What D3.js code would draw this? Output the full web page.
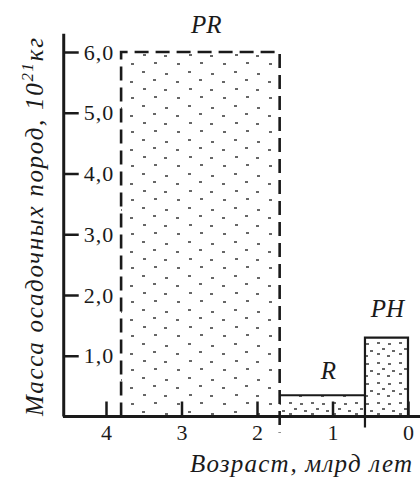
<!DOCTYPE html>
<html>
<head>
<meta charset="utf-8">
<script src="https://cdn.jsdelivr.net/npm/d3@7"></script>
<style>
  body { margin: 0; background: #fff; }
</style>
</head>
<body>
<div id="chart"></div>
<script>
// data: eras, their age bounds (bn years) and sediment mass (10^21 kg)
var eras = ["PR", "R", "PH"];
var ageFrom = [3.8, 1.7, 0.57];
var ageTo = [1.7, 0.57, 0];
var mass = [6.0, 0.35, 1.3];

var yTicks = [1, 2, 3, 4, 5, 6];
var yTickLabels = ["1,0", "2,0", "3,0", "4,0", "5,0", "6,0"];
var xTicks = [4, 3, 2, 1, 0];
var xTickLabels = ["4", "3", "2", "1", "0"];

var width = 420, height = 485;
var ink = "#1a1a1a";
var serif = "Liberation Serif";

// set the ranges
var x = d3.scaleLinear().domain([4, 0]).range([106, 408]);
var y = d3.scaleLinear().domain([0, 6]).range([416.5, 52]);

var svg = d3.select("#chart").append("svg")
    .attr("width", width)
    .attr("height", height);

// stipple patterns for the filled areas
var defs = svg.append("defs");
function stipple(id, w, h, marks) {
  var p = defs.append("pattern")
      .attr("id", id)
      .attr("patternUnits", "userSpaceOnUse")
      .attr("width", w)
      .attr("height", h);
  marks.forEach(function(m) {
    p.append("line")
      .attr("x1", m[0]).attr("y1", m[1])
      .attr("x2", m[0] + 3).attr("y2", m[1])
      .attr("stroke", "#333")
      .attr("stroke-width", 1.5);
  });
}
stipple("dots-sparse", 46, 34, [[4, 4], [27, 6], [15, 12], [38, 14], [5, 21], [26, 22], [16, 29], [39, 30]]);
stipple("dots-dense", 22, 20, [[3, 3], [14, 4], [8, 9], [18, 11], [3, 14], [13, 16]]);

// filled areas
svg.selectAll(".era")
    .data(eras)
  .enter().append("rect")
    .attr("class", "era")
    .attr("x", function(d, i) { return x(ageFrom[i]); })
    .attr("width", function(d, i) { return x(ageTo[i]) - x(ageFrom[i]); })
    .attr("y", function(d, i) { return y(mass[i]); })
    .attr("height", function(d, i) { return y(0) - y(mass[i]); })
    .attr("fill", function(d, i) { return i == 0 ? "url(#dots-sparse)" : "url(#dots-dense)"; });

// PR outline, dashed
svg.append("path")
    .attr("d", "M" + x(ageFrom[0]) + "," + y(0) +
               "V" + y(mass[0]) +
               "H" + x(ageTo[0]) +
               "V" + (y(0) + 16))
    .attr("fill", "none")
    .attr("stroke", ink)
    .attr("stroke-width", 2.6)
    .attr("stroke-dasharray", "14,7");

// R outline
svg.append("path")
    .attr("d", "M" + x(ageFrom[1]) + "," + y(mass[1]) + "H" + x(ageTo[1]))
    .attr("fill", "none")
    .attr("stroke", ink)
    .attr("stroke-width", 2.2);

// PH outline
svg.append("path")
    .attr("d", "M" + x(ageFrom[2]) + "," + (y(0) + 11) +
               "V" + y(mass[2]) +
               "H" + x(ageTo[2]) +
               "V" + y(0))
    .attr("fill", "none")
    .attr("stroke", ink)
    .attr("stroke-width", 2.2);

// era labels
var labelDx = [6, 6, 1], labelDy = [-19, -16, -21];
svg.selectAll(".era-label")
    .data(eras)
  .enter().append("text")
    .attr("class", "era-label")
    .attr("x", function(d, i) { return (x(ageFrom[i]) + x(ageTo[i])) / 2 + labelDx[i]; })
    .attr("y", function(d, i) { return y(mass[i]) + labelDy[i]; })
    .attr("text-anchor", "middle")
    .attr("font-family", serif)
    .attr("font-style", "italic")
    .attr("font-size", 25)
    .attr("fill", ink)
    .text(function(d) { return d; });

// axis lines
svg.append("line")
    .attr("x1", x(4.56)).attr("x2", x(4.56))
    .attr("y1", y(6.3)).attr("y2", y(0))
    .attr("stroke", ink).attr("stroke-width", 3);
svg.append("line")
    .attr("x1", x(4.57)).attr("x2", width)
    .attr("y1", y(0)).attr("y2", y(0))
    .attr("stroke", ink).attr("stroke-width", 3);

// y axis, ticks and labels inside
var yAxis = svg.append("g")
    .attr("transform", "translate(" + x(4.56) + ",0)")
    .call(d3.axisLeft(y)
      .tickValues(yTicks)
      .tickSize(-15)
      .tickFormat(function(d, i) { return yTickLabels[i]; }))
    .call(g => g.select(".domain").remove());
yAxis.selectAll("line").attr("stroke", ink).attr("stroke-width", 2.5);
yAxis.selectAll("text")
    .attr("x", 20)
    .attr("text-anchor", "start")
    .attr("font-family", serif)
    .attr("font-size", 22)
    .attr("letter-spacing", 1)
    .attr("fill", ink);

// x axis, ticks pointing up
var xAxis = svg.append("g")
    .attr("transform", "translate(0," + y(0) + ")")
    .call(d3.axisBottom(x)
      .tickValues(xTicks)
      .tickSize(-15)
      .tickPadding(8)
      .tickFormat(function(d, i) { return xTickLabels[i]; }))
    .call(g => g.select(".domain").remove());
xAxis.selectAll("line").attr("stroke", ink).attr("stroke-width", 2.5);
xAxis.selectAll("text")
    .attr("font-family", serif)
    .attr("font-size", 22)
    .attr("fill", ink);

// axis titles
var yTitle = svg.append("text")
    .attr("transform", "translate(43,416) rotate(-90)")
    .attr("font-family", serif)
    .attr("font-style", "italic")
    .attr("font-size", 25)
    .attr("fill", ink)
    .attr("textLength", 378)
    .attr("lengthAdjust", "spacing");
yTitle.append("tspan").text("Масса  осадочных  пород,  10");
yTitle.append("tspan").attr("dy", -10).attr("font-size", 17).text("21");
yTitle.append("tspan").attr("dy", 10).text("кг");

svg.append("text")
    .attr("x", 412)
    .attr("y", 472)
    .attr("text-anchor", "end")
    .attr("font-family", serif)
    .attr("font-style", "italic")
    .attr("font-size", 25)
    .attr("fill", ink)
    .attr("textLength", 222)
    .attr("lengthAdjust", "spacing")
    .text("Возраст, млрд  лет");
</script>
</body>
</html>
